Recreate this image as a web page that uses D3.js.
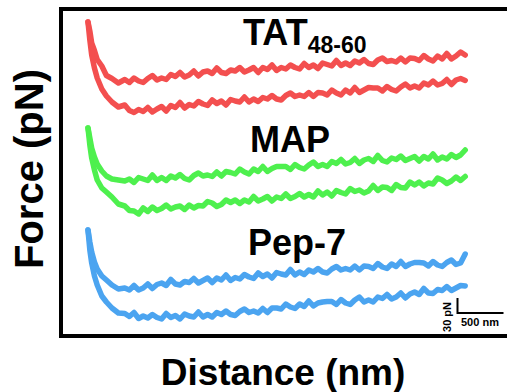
<!DOCTYPE html>
<html lang="en">
<head>
<meta charset="utf-8">
<script src="https://d3js.org/d3.v7.min.js"></script>
<style>
body { margin: 0; background: #fff; }
text { font-family: "Liberation Sans", Arial, sans-serif; font-weight: bold; fill: #000; }
</style>
</head>
<body>
<script type="text/javascript">

// distance (nm) of every sample, shared by all traces
var distance = [0,20,40,70,100,150,200,260,330,
  400,450,500,550,600,650,700,750,800,850,
  900,950,1000,1050,1100,1150,1200,1250,1300,1350,
  1400,1450,1500,1550,1600,1650,1700,1750,1800,1850,
  1900,1950,2000,2050,2100,2150,2200,2250,2300,2350,
  2400,2450,2500,2550,2600,2650,2700,2750,2800,2850,
  2900,2950,3000,3050,3100,3150,3200,3250,3300,3350,
  3400,3450,3500,3550,3600,3650,3700,3750,3800,3850,
  3900,3950,4000,4050,4100];

// force (pN), traces stacked with their offset
var tatUpper = [628,610,586,571,553,540,521,515,506,
  513,507,516,510,507,515,521,512,516,513,
  523,519,527,518,522,530,520,528,530,525,
  536,527,525,532,530,537,528,532,537,527,
  537,533,542,531,537,534,542,537,534,545,
  537,542,535,546,543,540,551,541,546,541,
  550,546,553,545,543,552,556,549,551,548,
  556,548,556,555,551,561,554,550,560,554,
  565,554,560,568,562];
var tatLower = [628,592,562,536,516,494,480,468,458,
  462,451,447,453,449,457,448,454,459,450,
  461,457,467,456,463,460,469,464,461,472,
  465,470,462,473,470,468,478,468,474,469,
  477,474,481,474,472,481,486,479,482,479,
  487,479,487,486,482,492,486,482,492,486,
  497,487,492,497,496,496,490,499,493,490,
  498,504,496,500,496,506,502,510,502,505,
  513,503,512,515,511];

var mapUpper = [416,396,376,358,344,330,320,314,312,
  310,314,307,317,314,311,322,311,317,311,
  320,316,323,315,312,321,326,320,322,319,
  328,320,329,327,324,334,328,324,334,329,
  339,329,335,339,339,339,333,343,337,334,
  342,348,339,343,339,349,345,353,344,347,
  355,345,352,355,349,361,351,348,356,353,
  360,351,355,359,350,359,354,364,352,358,
  354,363,357,362,372];
var mapLower = [416,382,356,332,312,296,288,278,264,
  260,251,250,244,256,249,258,251,255,262,
  254,258,260,253,262,256,261,260,269,266,
  259,263,272,267,272,265,272,268,279,270,
  274,279,270,278,275,284,275,279,285,278,
  283,278,290,282,288,280,291,287,284,295,
  289,292,286,290,301,291,298,297,291,303,
  297,296,308,302,308,300,306,304,316,312,
  305,310,318,311,319];

var pepUpper = [212,188,168,148,134,120,112,102,94,
  96,92,101,92,96,104,95,103,106,101,
  113,104,102,109,107,115,106,111,116,107,
  116,112,122,111,117,114,123,118,115,126,
  119,124,116,127,124,122,133,122,128,123,
  132,128,135,128,126,134,139,132,135,132,
  140,132,140,139,135,145,138,135,144,139,
  149,139,144,147,147,146,140,149,142,139,
  147,152,143,146,164];
var pepLower = [212,172,146,120,102,80,68,56,46,
  45,39,47,35,40,36,43,37,34,45,
  37,41,34,44,40,38,48,38,43,38,
  47,43,50,43,41,49,54,47,50,46,
  55,47,56,56,54,64,58,55,64,59,
  70,60,66,68,69,69,63,73,66,63,
  72,78,68,72,68,78,75,83,74,78,
  86,76,84,88,83,95,86,85,93,91,
  99,91,96,101,100];

var peptides = ["TAT", "MAP", "Pep-7"];
var subscripts = ["48-60", "", ""];
var colors = ["#f34f4f", "#4ef04e", "#4ba4f0"];
var scaleBarNm = 500, scaleBarPn = 30;

var svg = d3.select("body")
  .append("svg")
  .attr("width", 507)
  .attr("height", 392);

var x = d3.scaleLinear().domain([0, 4100]).range([88, 465.2]);
var y = d3.scaleLinear().domain([0, 650]).range([336, 11]);

var traces = [
  {p: 0, v: tatUpper}, {p: 0, v: tatLower},
  {p: 1, v: mapUpper}, {p: 1, v: mapLower},
  {p: 2, v: pepUpper}, {p: 2, v: pepLower}
];

var line = d3.line()
  .x((d, i) => x(distance[i]))
  .y(d => y(d));

svg.selectAll("path.trace")
  .data(traces)
  .enter()
  .append("path")
  .attr("class", "trace")
  .attr("d", d => line(d.v))
  .attr("fill", "none")
  .attr("stroke", d => colors[d.p])
  .attr("stroke-width", 5.5)
  .attr("stroke-linejoin", "round")
  .attr("stroke-linecap", "round");

// frame (right side runs off the picture)
svg.append("rect")
  .attr("x", 61).attr("y", 9)
  .attr("width", 470).attr("height", 327)
  .attr("fill", "none")
  .attr("stroke", "#000")
  .attr("stroke-width", 4);

// peptide names
var labelPos = [[243, 45], [250, 152], [248, 255]];
peptides.forEach(function (name, i) {
  var t = svg.append("text")
    .attr("x", labelPos[i][0])
    .attr("y", labelPos[i][1])
    .style("font-size", "36px")
    .text(name);
  if (subscripts[i]) {
    t.append("tspan")
      .attr("dy", 8)
      .style("font-size", "23px")
      .text(subscripts[i]);
  }
});

// axis titles
svg.append("text")
  .attr("transform", "translate(43,169) rotate(-90)")
  .attr("text-anchor", "middle")
  .style("font-size", "40px")
  .text("Force (pN)");

svg.append("text")
  .attr("x", 283).attr("y", 385)
  .attr("text-anchor", "middle")
  .style("font-size", "37px")
  .text("Distance (nm)");

// scale bar
var sbX = 457.5, sbY = 313;
var sbW = x(scaleBarNm) - x(0);
var sbH = y(0) - y(scaleBarPn);
svg.append("path")
  .attr("d", "M" + sbX + "," + (sbY - sbH) + "V" + sbY + "H" + (sbX + sbW))
  .attr("fill", "none")
  .attr("stroke", "#000")
  .attr("stroke-width", 2);

svg.append("text")
  .attr("transform", "translate(451,317) rotate(-90)")
  .attr("text-anchor", "middle")
  .style("font-size", "11px")
  .text(scaleBarPn + " pN");

svg.append("text")
  .attr("x", 461).attr("y", 326)
  .style("font-size", "11px")
  .text(scaleBarNm + " nm");

</script>
</body>
</html>
